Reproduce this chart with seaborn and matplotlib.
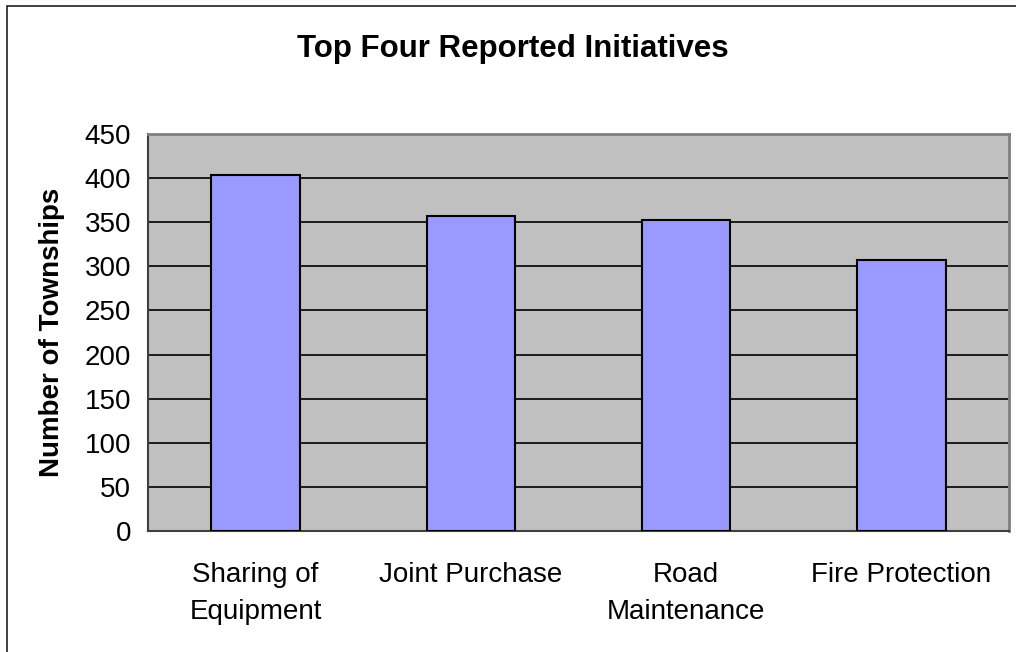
import matplotlib
matplotlib.use("Agg")
import matplotlib.pyplot as plt
import seaborn as sns
import pandas as pd
from matplotlib.patches import Rectangle

initiatives = ["Sharing of\nEquipment", "Joint Purchase", "Road\nMaintenance", "Fire Protection"]
townships = [403, 357, 353, 307]
y_ticks = [0, 50, 100, 150, 200, 250, 300, 350, 400, 450]

df = pd.DataFrame({"initiative": initiatives, "townships": townships})

sns.set_style("white")
plt.rcParams["font.family"] = ["Liberation Sans", "DejaVu Sans"]
plt.rcParams["text.color"] = "black"
plt.rcParams["xtick.color"] = "black"
plt.rcParams["ytick.color"] = "black"
plt.rcParams["axes.labelcolor"] = "black"

fig = plt.figure(figsize=(10.16, 6.52), dpi=100)
ax = fig.add_axes([148 / 1016, 121 / 652, (1009 - 148) / 1016, (531 - 134) / 652])

# outer chart frame (only top/left edges visible in the original)
fig.patches.append(Rectangle((7 / 1016, -0.1), 1.2, (652 - 6) / 652 + 0.1,
                             transform=fig.transFigure, fill=False,
                             edgecolor="#202020", linewidth=1.2, zorder=0))

sns.barplot(data=df, x="initiative", y="townships", color="#9999FF",
            saturation=1, width=0.41, edgecolor="black", linewidth=1.5,
            ax=ax, zorder=3)

ax.set_facecolor("#C0C0C0")
ax.set_ylim(0, 450)
ax.set_xlim(-0.5, 3.5)
ax.set_yticks(y_ticks)
ax.yaxis.grid(True, color="black", linewidth=1.2, zorder=1)
ax.set_axisbelow(True)

# category labels centred, tick marks between categories
ax.set_xticks(range(len(initiatives)))
ax.set_xticklabels(initiatives, fontsize=20, linespacing=1.55)
ax.set_xticks([i - 0.5 for i in range(len(initiatives) + 1)], minor=True)
ax.tick_params(axis="x", which="major", length=0, pad=22)
ax.tick_params(axis="x", which="minor", length=6, width=1.2, color="#404040", direction="out")
ax.tick_params(axis="y", length=6, width=1.2, color="#404040", labelcolor="black",
               direction="out", labelsize=20, pad=6)
ax.set_xlabel("")
ax.set_ylabel("Number of Townships", fontsize=20, fontweight="bold", labelpad=14)

for side in ["top", "right"]:
    ax.spines[side].set_visible(True)
    ax.spines[side].set_color("#808080")
    ax.spines[side].set_linewidth(2)
ax.spines["left"].set_color("#404040")
ax.spines["left"].set_linewidth(1.5)
ax.spines["bottom"].set_color("#404040")
ax.spines["bottom"].set_linewidth(1.5)

fig.text(513 / 1016, 1 - 49 / 652, "Top Four Reported Initiatives",
         ha="center", va="center", fontsize=22.5, fontweight="bold")

fig.savefig("out.png", dpi=100)
